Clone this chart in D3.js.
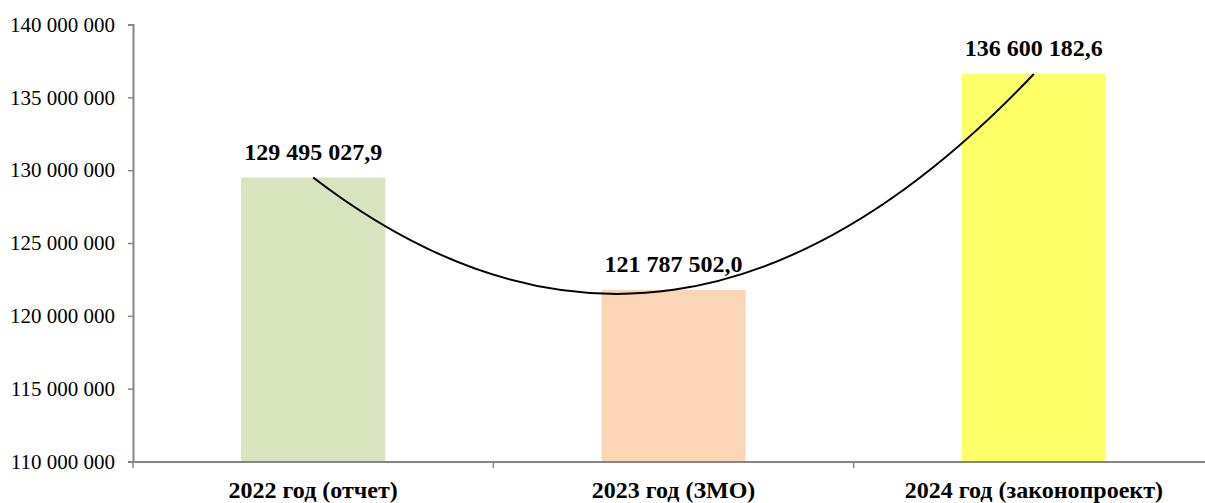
<!DOCTYPE html>
<html>
<head>
<meta charset="utf-8">
<script src="https://cdn.jsdelivr.net/npm/d3@7"></script>
<style>
  html, body { margin: 0; padding: 0; background: #ffffff; }
  svg { display: block; }
  svg text { font-family: "Liberation Serif", "Times New Roman", Times, "DejaVu Serif", serif; }
</style>
</head>
<body>
<svg id="chart" width="1205" height="503"></svg>
<script>
// Data
const categories = ["2022 год (отчет)", "2023 год (ЗМО)", "2024 год (законопроект)"];
const values = [129495027.9, 121787502.0, 136600182.6];
const barColors = ["#D7E4BD", "#FCD5B5", "#FFFF66"];
const yTicks = [110000000, 115000000, 120000000, 125000000, 130000000, 135000000, 140000000];

const svg = d3.select("#chart");

const locale = d3.formatLocale({ decimal: ",", thousands: " ", grouping: [3], currency: ["", ""] });
const fmtTick = locale.format(",.0f");
const fmtVal = locale.format(",.1f");

const x = d3.scaleBand().domain(categories).range([133, 1214]).paddingInner(0.6).paddingOuter(0.3);
const y = d3.scaleLinear().domain([110000000, 140000000]).range([461.5, 24.5]);

const axisColor = "#868686";

// Bars
svg.append("g").selectAll("rect").data(values).join("rect")
  .attr("x", (d, i) => x(categories[i]))
  .attr("y", d => y(d))
  .attr("width", x.bandwidth())
  .attr("height", d => y(110000000) - y(d))
  .attr("fill", (d, i) => barColors[i]);

// Y axis
const yAxis = svg.append("g").attr("transform", "translate(133,0)")
  .call(d3.axisLeft(y).tickValues(yTicks).tickFormat(fmtTick).tickSize(5).tickPadding(13));
yAxis.attr("font-family", null);
yAxis.select(".domain").attr("stroke", axisColor).attr("stroke-width", 2);
yAxis.selectAll(".tick line").attr("stroke", axisColor).attr("stroke-width", 1.5);
yAxis.selectAll("text").style("font-size", "21px").attr("fill", "#000");

// X axis baseline and boundary ticks
const xAxis = svg.append("g").attr("transform", "translate(0,461.5)")
  .call(d3.axisBottom(x).tickSize(0).tickPadding(19.5));
xAxis.attr("font-family", null);
xAxis.select(".domain").attr("stroke", axisColor).attr("stroke-width", 2);
xAxis.selectAll("text").style("font-size", "24px").style("font-weight", "bold").attr("fill", "#000");

const step = x.step();
const bounds = categories.map(c => x(c) - step * x.paddingOuter())
  .concat([x(categories[categories.length - 1]) + x.bandwidth() + step * x.paddingOuter()]);
svg.append("g").selectAll("line").data(bounds).join("line")
  .attr("x1", d => d).attr("x2", d => d)
  .attr("y1", 461.5).attr("y2", 468)
  .attr("stroke", axisColor).attr("stroke-width", 1.5);

// Smoothed line through bar tops (Excel-like smoothing: Catmull-Rom with
// end tangents guided by quadratic extrapolation)
const pts = values.map((v, i) => [x(categories[i]) + x.bandwidth() / 2, y(v)]);
const n = pts.length;
const guideStart = [0, 1].map(k => 3 * pts[0][k] - 3 * pts[1][k] + pts[2][k]);
const guideEnd = [0, 1].map(k => 3 * pts[n - 1][k] - 3 * pts[n - 2][k] + pts[n - 3][k]);
svg.append("path")
  .attr("d", d3.line().curve(d3.curveCardinalOpen.tension(0))([guideStart, ...pts, guideEnd]))
  .attr("fill", "none").attr("stroke", "#000").attr("stroke-width", 2);

// Value labels
svg.append("g").selectAll("text").data(values).join("text")
  .attr("x", (d, i) => x(categories[i]) + x.bandwidth() / 2)
  .attr("y", d => y(d) - 18)
  .attr("text-anchor", "middle")
  .style("font-size", "24px").style("font-weight", "bold")
  .attr("fill", "#000")
  .text(d => fmtVal(d));
</script>
</body>
</html>
